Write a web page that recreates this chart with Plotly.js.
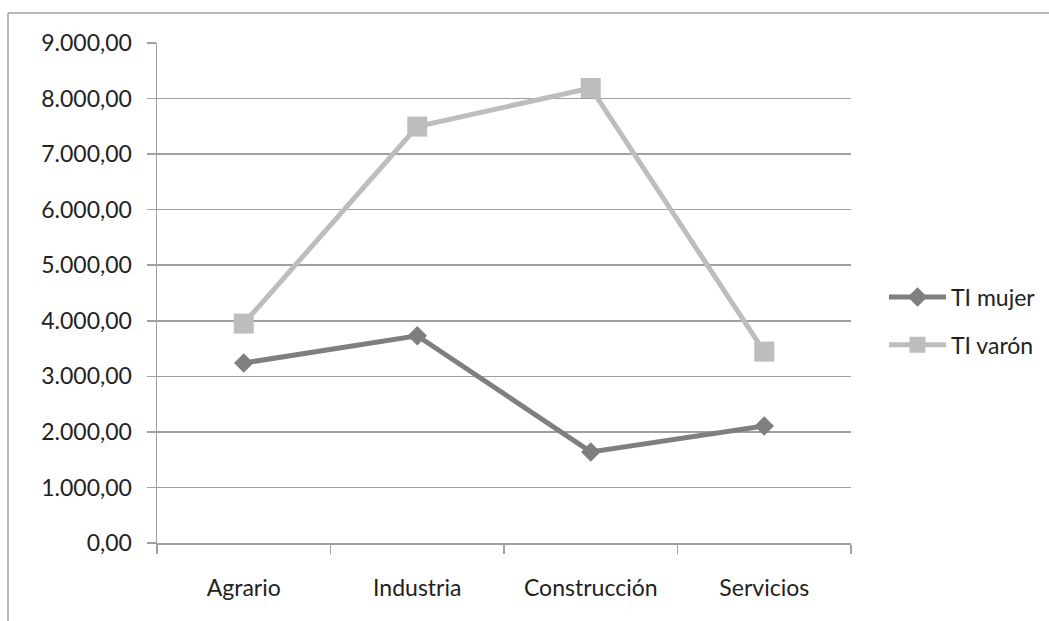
<!DOCTYPE html>
<html>
<head>
<meta charset="utf-8">
<script src="https://cdn.plot.ly/plotly-3.0.1.min.js"></script>
<style>
  html, body { margin: 0; padding: 0; background: #ffffff; }
  #chart { width: 1049px; height: 621px; }
</style>
</head>
<body>
<div id="chart"></div>
<script>
// Sectors on the category axis
const sectores = ['Agrario', 'Industria', 'Construcción', 'Servicios'];

// TI by sex for each sector
const tiMujer = [3240, 3730, 1640, 2105];
const tiVaron = [3950, 7495, 8190, 3445];

// Series names
const nombreMujer = 'TI mujer';
const nombreVaron = 'TI varón';

// Value axis ticks
const yTicks = [0, 1000, 2000, 3000, 4000, 5000, 6000, 7000, 8000, 9000];

const textColor = '#222222';
const axisGray = '#a0a0a0';
const fontFamily = 'Lato, "Open Sans", sans-serif';

const traces = [
  {
    x: sectores,
    y: tiMujer,
    name: nombreMujer,
    type: 'scatter',
    mode: 'lines+markers',
    legendgroup: 'm',
    line: { color: '#7f7f82', width: 5 },
    marker: { symbol: 'diamond', size: 15, color: '#7f7f82' },
    hoverinfo: 'skip'
  },
  {
    x: sectores,
    y: tiVaron,
    name: nombreVaron,
    type: 'scatter',
    mode: 'lines+markers',
    legendgroup: 'v',
    line: { color: '#bdbdc0', width: 5 },
    marker: { symbol: 'square', size: 20, color: '#bdbdc0' },
    hoverinfo: 'skip'
  }
];

// Plot area spans 157..851 px horizontally and 43..543 px vertically
const L = 157, R = 198, T = 43, B = 78;
const plotW = 1049 - L - R, plotH = 621 - T - B;
const px = v => (v - L) / plotW;
const py = v => (621 - B - v) / plotH;

const layout = {
  width: 1049,
  height: 621,
  margin: { l: L, r: R, t: T, b: B, pad: 0, autoexpand: false },
  paper_bgcolor: '#ffffff',
  plot_bgcolor: '#ffffff',
  separators: ',.',
  font: { family: fontFamily, size: 23, color: textColor },
  showlegend: true,
  legend: {
    x: px(884),
    y: py(321),
    xanchor: 'left',
    yanchor: 'middle',
    traceorder: 'grouped',
    tracegroupgap: 15,
    itemwidth: 57,
    bgcolor: 'rgba(0,0,0,0)',
    font: { family: fontFamily, size: 23, color: textColor }
  },
  xaxis: {
    type: 'category',
    range: [-0.5, 3.5],
    showgrid: false,
    showline: true,
    linecolor: axisGray,
    linewidth: 1.5,
    ticks: 'outside',
    tickson: 'boundaries',
    ticklen: 9,
    tickwidth: 1.5,
    tickcolor: axisGray,
    ticklabelstandoff: 24,
    tickfont: { family: fontFamily, size: 23, color: textColor },
    fixedrange: true
  },
  yaxis: {
    range: [0, 9000],
    tickmode: 'array',
    tickvals: yTicks,
    tickformat: ',.2f',
    showgrid: true,
    gridcolor: axisGray,
    gridwidth: 1.5,
    zeroline: false,
    showline: true,
    linecolor: axisGray,
    linewidth: 1.5,
    ticks: 'outside',
    ticklen: 9,
    tickwidth: 1.5,
    tickcolor: axisGray,
    ticklabelstandoff: 10,
    tickfont: { family: fontFamily, size: 23, color: textColor },
    fixedrange: true
  },
  shapes: [
    // chart frame: top and left edges
    {
      type: 'line', xref: 'paper', yref: 'paper', layer: 'below',
      x0: px(8), x1: px(1060), y0: py(13), y1: py(13),
      line: { color: axisGray, width: 1.5 }
    },
    {
      type: 'line', xref: 'paper', yref: 'paper', layer: 'below',
      x0: px(8), x1: px(8), y0: py(13), y1: py(630),
      line: { color: axisGray, width: 1.5 }
    }
  ]
};

Plotly.newPlot('chart', traces, layout, { displayModeBar: false, staticPlot: true });
</script>
</body>
</html>
